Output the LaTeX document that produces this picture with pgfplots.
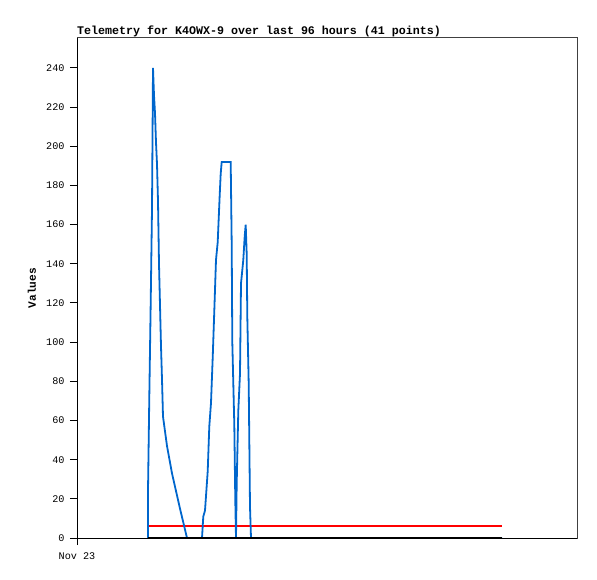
\documentclass[border=0pt]{standalone}
\usepackage{fontspec}
\setmainfont{Liberation Mono}
\usepackage{pgfplots}
\pgfplotsset{compat=1.18}
\definecolor{telblue}{HTML}{0066CC}
\definecolor{framegray}{HTML}{404040}
\begin{document}
\begin{tikzpicture}
\begin{axis}[
  scale only axis,
  width=500bp, height=500bp,
  xmin=0, xmax=500,
  ymin=0, ymax=255.3,
  xtick={0}, xticklabels={Nov 23},
  ytick={0,20,...,240},
  tick align=outside,
  major tick length=7bp,
  tick style={black, line width=1bp},
  xtick pos=bottom, ytick pos=left,
  axis line style={draw=framegray, line width=1bp},
  /pgf/number format/assume math mode=true,
  ticklabel style={font=\fontsize{10.2}{12}\selectfont},
  yticklabel style={xshift=-2bp},
  xticklabel style={yshift=-4bp},
  ylabel={\textbf{Values}},
  ylabel style={at={(axis description cs:-0.09,0.5)}, anchor=center,
    font=\fontsize{11.2}{13}\selectfont},
  clip=false,
]
% frame: left side black
\draw[black, line width=1bp] (rel axis cs:0,0) -- (rel axis cs:0,1);
% threshold line
\addplot[red, line width=1.8bp] coordinates {(71,6) (425,6)};
% telemetry values
\addplot[telblue, line width=1.8bp] coordinates {
  (71,0) (71,24) (72.3,72) (73.7,120) (75,168) (76,240) (77,226) (78,217)
  (79,202) (80,191) (81,172) (82,140) (84,98) (85,81) (86,62) (90,47)
  (95,33) (103,15) (110,0) (125,0) (126.3,11) (128,14) (130.7,34)
  (132.3,57) (134,69) (135.7,92) (137.3,116) (139,142) (140.7,151)
  (141.7,163) (142.7,175) (143.7,186) (144.7,192) (153.7,192)
  (154.7,150) (155.3,100) (157.3,58) (158.3,19) (159,0) (159.7,28)
  (161.3,65) (163,84) (164,130) (166.3,142) (167.7,154) (168.7,160)
  (169.7,145) (170.3,113) (171.7,79) (173,16) (174,0) (425,0)
};
% zero line
\addplot[black, line width=1.8bp] coordinates {(71,0) (425,0)};
\draw[black, line width=1bp] (rel axis cs:0,0) -- (rel axis cs:1,0);
\node[anchor=base west, inner sep=0pt, yshift=3bp,
  font=\fontsize{11.7}{13}\selectfont\bfseries]
  at (rel axis cs:0,1) {Telemetry for K4OWX-9 over last 96 hours (41 points)};
\coordinate (bl) at (rel axis cs:0,0);
\coordinate (tr) at (rel axis cs:1,1);
\end{axis}
\pgfresetboundingbox
\path[use as bounding box] ([xshift=-77bp,yshift=-41bp]bl) rectangle ([xshift=20bp,yshift=38bp]tr);
\end{tikzpicture}
\end{document}
